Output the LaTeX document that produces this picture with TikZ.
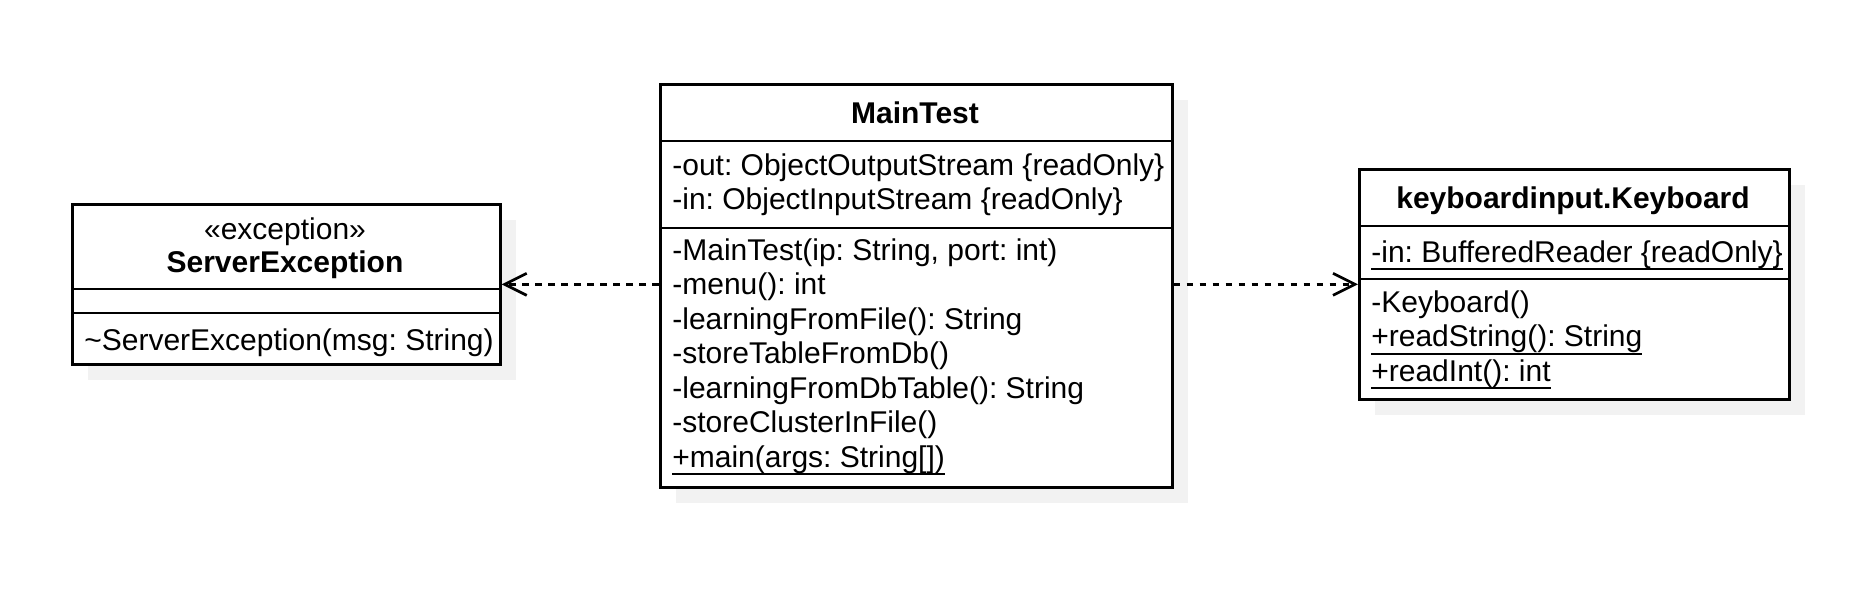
\documentclass[tikz,border=0pt]{standalone}
\usepackage{fontspec}
\setmainfont{Liberation Sans}
\usetikzlibrary{arrows.meta,shadows}
\frenchspacing
\newcommand{\umlstatic}[1]{\setbox0\hbox{#1}\rlap{\rule[-4pt]{\wd0}{1pt}}\box0}

\tikzset{
  classbox/.style={draw, line width=1.35pt, fill=white, anchor=north west, inner sep=0pt,
    drop shadow={shadow xshift=8pt, shadow yshift=-8pt, fill=black!5, opacity=1}},
  member/.style={anchor=base west, inner sep=0pt, font=\fontsize{15}{18}\selectfont},
  classname/.style={anchor=base, inner sep=0pt, font=\fontsize{15}{18}\selectfont},
  dependency/.style={line width=1.35pt, dash pattern=on 3.3pt off 3.2pt,
    -{Straight Barb[length=11pt,width=11pt]}}
}

\begin{document}
\begin{tikzpicture}[x=0.5pt, y=-0.5pt, line width=1.35pt]
  \useasboundingbox (0,0) rectangle (1862,589);
  \begin{scope}[shift={(71,203)}]
    \node[classbox, minimum width=214pt, minimum height=80pt] (serverexc) at (0,0) {};
    \draw (0,86) -- (428,86) (0,110) -- (428,110);
    \draw
    (214,36) node[classname] (sestereo) {«exception»}
    (214,69) node[classname, font=\bfseries\fontsize{15}{18}\selectfont] (sename) {ServerException}
    (12,147) node[member] (seop1) {\textasciitilde ServerException(msg: String)};
  \end{scope}
  \begin{scope}[shift={(659,83)}]
    \node[classbox, minimum width=256pt, minimum height=201.5pt] (main) at (0,0) {};
    \draw (0,58) -- (512,58) (0,145) -- (512,145);
    \draw
    (256,40) node[classname, font=\bfseries\fontsize{15}{18}\selectfont] (mainname) {MainTest}
    (12,92) node[member] (mainattr1) {-out: ObjectOutputStream \{readOnly\}}
    (12,126.5) node[member] (mainattr2) {-in: ObjectInputStream \{readOnly\}}
    (12,177) node[member] (mainop1) {-MainTest(ip: String, port: int)}
    (12,211.5) node[member] (mainop2) {-menu(): int}
    (12,246) node[member] (mainop3) {-learningFromFile(): String}
    (12,280.5) node[member] (mainop4) {-storeTableFromDb()}
    (12,315) node[member] (mainop5) {-learningFromDbTable(): String}
    (12,349.5) node[member] (mainop6) {-storeClusterInFile()}
    (12,384) node[member] (mainop7) {\umlstatic{+main(args: String[])}};
  \end{scope}
  \begin{scope}[shift={(1358,168)}]
    \node[classbox, minimum width=215pt, minimum height=115pt] (keyboard) at (0,0) {};
    \draw (0,58) -- (430,58) (0,111) -- (430,111);
    \draw
    (215,40) node[classname, font=\bfseries\fontsize{15}{18}\selectfont] (kbname) {keyboardinput.Keyboard}
    (12,94) node[member] (kbattr1) {\umlstatic{-in: BufferedReader \{readOnly\}}}
    (12,144) node[member] (kbop1) {-Keyboard()}
    (12,178.5) node[member] (kbop2) {\umlstatic{+readString(): String}}
    (12,213) node[member] (kbop3) {\umlstatic{+readInt(): int}};
  \end{scope}
  % dependencies
  \draw[dependency] (main.west |- serverexc.east) -- (serverexc.east);
  \draw[dependency] (main.east |- keyboard.west) -- (keyboard.west);
\end{tikzpicture}
\end{document}
